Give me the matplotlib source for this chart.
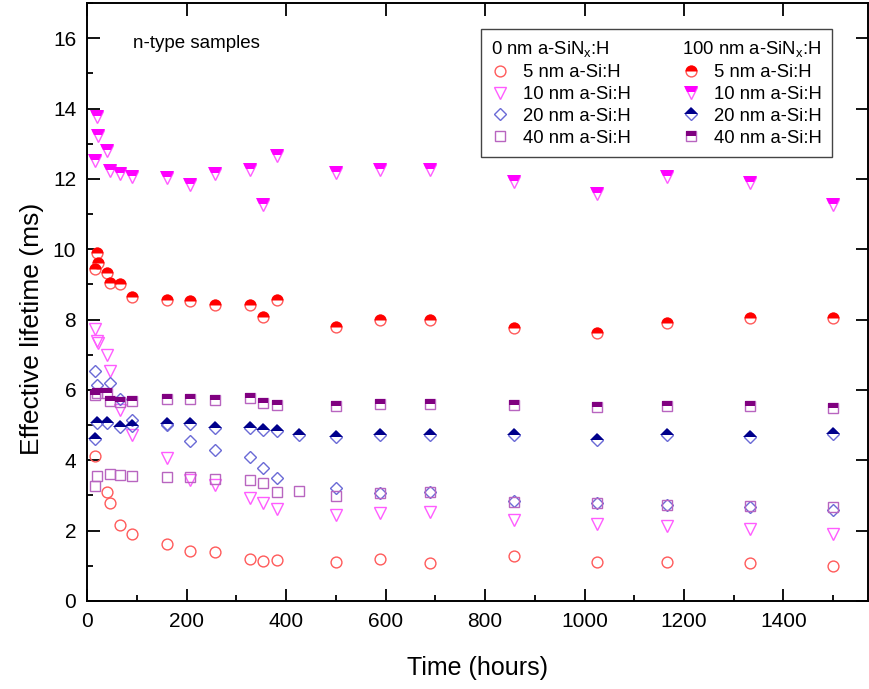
import matplotlib
matplotlib.use('Agg')
import matplotlib.pyplot as plt
from matplotlib.lines import Line2D
from matplotlib.ticker import MultipleLocator

plt.rcParams['font.family'] = ['Liberation Sans', 'DejaVu Sans']
plt.rcParams['mathtext.fontset'] = 'custom'
plt.rcParams['mathtext.rm'] = 'Liberation Sans'

# time (hours) / effective lifetime (ms), 0 nm a-SiNx:H
t_5nm_0 = [16, 40, 46, 65, 90, 160, 207, 256, 327, 354, 381, 500, 589, 690, 859, 1026, 1166, 1333, 1500]
v_5nm_0 = [4.13, 3.09, 2.78, 2.17, 1.9, 1.61, 1.43, 1.40, 1.2, 1.15, 1.17, 1.10, 1.19, 1.07, 1.27, 1.12, 1.10, 1.07, 1.0]
t_10nm_0 = [16, 19, 22, 40, 46, 65, 90, 160, 207, 256, 327, 354, 381, 500, 589, 690, 859, 1026, 1166, 1333, 1500]
v_10nm_0 = [7.73, 7.4, 7.33, 7.0, 6.53, 5.44, 4.73, 4.06, 3.45, 3.3, 2.92, 2.78, 2.62, 2.45, 2.5, 2.54, 2.30, 2.19, 2.13, 2.05, 1.90]
t_20nm_0 = [16, 19, 46, 65, 90, 160, 207, 256, 327, 354, 381, 500, 589, 690, 859, 1026, 1166, 1333, 1500]
v_20nm_0 = [6.53, 6.15, 6.2, 5.75, 5.15, 5.0, 4.54, 4.3, 4.08, 3.78, 3.49, 3.2, 3.07, 3.09, 2.83, 2.8, 2.74, 2.67, 2.59]
t_40nm_0 = [16, 19, 46, 65, 90, 160, 207, 256, 327, 354, 381, 425, 500, 589, 690, 859, 1026, 1166, 1333, 1500]
v_40nm_0 = [3.28, 3.56, 3.62, 3.59, 3.56, 3.52, 3.52, 3.47, 3.45, 3.35, 3.11, 3.14, 2.99, 3.07, 3.09, 2.81, 2.78, 2.74, 2.71, 2.67]

# 100 nm a-SiNx:H
t_5nm_100 = [16, 19, 22, 40, 46, 65, 90, 160, 207, 256, 327, 354, 381, 500, 589, 690, 859, 1026, 1166, 1333, 1500]
v_5nm_100 = [9.45, 9.9, 9.6, 9.33, 9.05, 9.0, 8.63, 8.56, 8.52, 8.42, 8.42, 8.08, 8.56, 7.78, 7.98, 8.0, 7.76, 7.61, 7.9, 8.04, 8.04]
t_10nm_100 = [16, 19, 22, 40, 46, 65, 90, 160, 207, 256, 327, 354, 381, 500, 589, 690, 859, 1026, 1166, 1333, 1500]
v_10nm_100 = [12.5, 13.77, 13.23, 12.78, 12.22, 12.15, 12.06, 12.03, 11.84, 12.15, 12.26, 11.27, 12.66, 12.17, 12.25, 12.25, 11.9, 11.56, 12.06, 11.87, 11.27]
t_20nm_100 = [16, 19, 40, 65, 90, 160, 207, 256, 327, 354, 381, 425, 500, 589, 690, 859, 1026, 1166, 1333, 1500]
v_20nm_100 = [4.6, 5.06, 5.06, 4.96, 4.98, 5.04, 5.04, 4.92, 4.92, 4.85, 4.82, 4.73, 4.66, 4.73, 4.73, 4.71, 4.57, 4.71, 4.67, 4.74]
t_40nm_100 = [16, 19, 40, 46, 65, 90, 160, 207, 256, 327, 354, 381, 500, 589, 690, 859, 1026, 1166, 1333, 1500]
v_40nm_100 = [5.85, 5.9, 5.9, 5.68, 5.66, 5.69, 5.75, 5.75, 5.72, 5.76, 5.63, 5.58, 5.53, 5.6, 5.61, 5.57, 5.52, 5.55, 5.55, 5.50]

labels = ['5 nm a-Si:H', '10 nm a-Si:H', '20 nm a-Si:H', '40 nm a-Si:H']

fig = plt.figure(figsize=(8.69, 6.89), dpi=100)
ax = fig.add_axes([87.3 / 869, 88 / 689, 780.7 / 869, 598 / 689])


def draw_open(t, v, marker, ms, edge):
    ln, = ax.plot(t, v, ls='none', marker=marker, ms=ms, mfc='none', mec=edge, mew=1.0)
    return ln


def draw_half(t, v, marker, ms, fill, edge):
    # light outline underneath, dark filled top half on top
    a, = ax.plot(t, v, ls='none', marker=marker, ms=ms, mfc='none', mec=edge, mew=1.0)
    b, = ax.plot(t, v, ls='none', marker=marker, ms=ms + 0.8, fillstyle='top',
                 mfc=fill, mfcalt='none', mec='none', mew=0)
    return (a, b)


h0 = [
    draw_open(t_5nm_0, v_5nm_0, 'o', 7.8, '#ff5a5a'),
    draw_open(t_10nm_0, v_10nm_0, 'v', 9.0, '#ff5cff'),
    draw_open(t_20nm_0, v_20nm_0, 'D', 6.2, '#6a6ad6'),
    draw_open(t_40nm_0, v_40nm_0, 's', 6.8, '#b865c0'),
]
h100 = [
    draw_half(t_5nm_100, v_5nm_100, 'o', 7.8, '#ff0000', '#ff5a5a'),
    draw_half(t_10nm_100, v_10nm_100, 'v', 9.0, '#ff00ff', '#ff5cff'),
    draw_half(t_20nm_100, v_20nm_100, 'D', 6.2, '#00008b', '#6a6ad6'),
    draw_half(t_40nm_100, v_40nm_100, 's', 6.8, '#800080', '#b865c0'),
]

ax.set_xlim(0, 1570)
ax.set_ylim(0, 17)
ax.xaxis.set_major_locator(MultipleLocator(200))
ax.xaxis.set_minor_locator(MultipleLocator(100))
ax.yaxis.set_major_locator(MultipleLocator(2))
ax.yaxis.set_minor_locator(MultipleLocator(1))
ax.tick_params(which='major', direction='in', length=9, width=1.3, top=True, right=True,
               labelsize=15, pad=8)
ax.tick_params(which='minor', direction='in', length=4.5, width=1.3, top=False, right=False)
for s in ax.spines.values():
    s.set_linewidth(1.4)

ax.set_xlabel('Time (hours)', fontsize=18, labelpad=18)
ax.set_ylabel('Effective lifetime (ms)', fontsize=19)
ax.yaxis.set_label_coords(-0.056, 0.455)

ax.text(0.059, 0.933, 'n-type samples', transform=ax.transAxes, fontsize=13.5, va='center')

blank = Line2D([], [], ls='none')
handles = [blank] + h0 + [blank] + h100
leg_labels = ['0 nm a-SiN$_\\mathrm{x}$:H'] + labels + ['100 nm a-SiN$_\\mathrm{x}$:H'] + labels
leg = ax.legend(handles, leg_labels, ncol=2, loc='upper right', bbox_to_anchor=(0.9535, 0.956),
                borderaxespad=0, fontsize=13.3, frameon=True, fancybox=False, framealpha=1,
                edgecolor='#444444', handlelength=1.0, handletextpad=0.7, columnspacing=2.8,
                labelspacing=0.26, borderpad=0.55)
leg.get_frame().set_linewidth(1.0)
# headers sit flush with the marker column
for col in leg._legend_handle_box.get_children():
    row = col.get_children()[0]
    row.get_children()[0].width = 0
    row.sep = 0

fig.savefig('out.png', dpi=100)
